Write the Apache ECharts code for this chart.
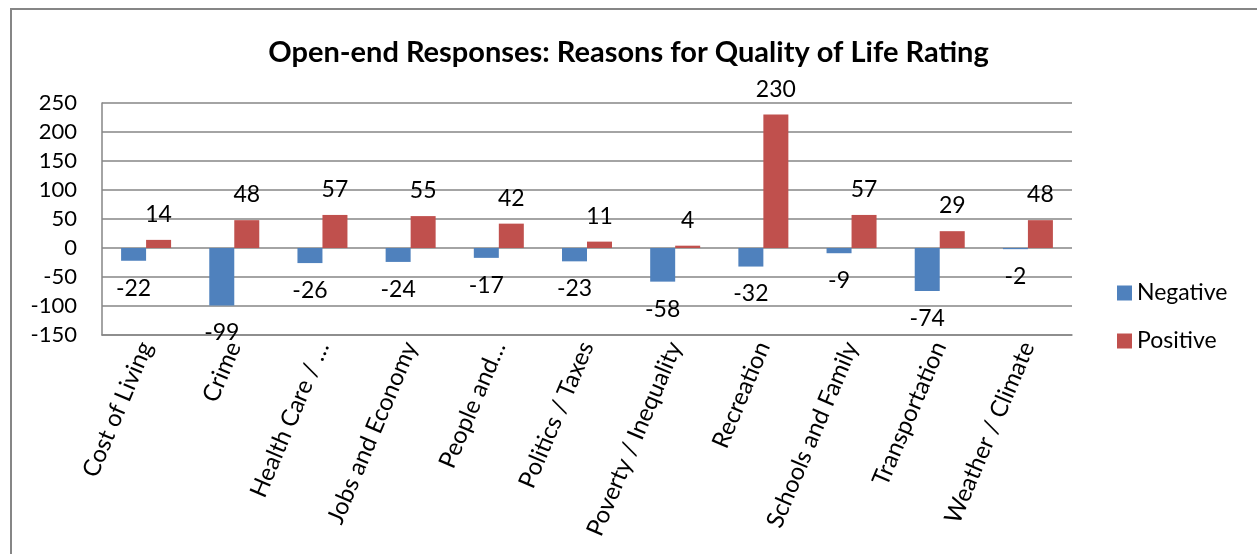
<!doctype html>
<html lang="en">
<head>
    <meta charset="UTF-8">
    <script type="text/javascript" src="https://cdn.jsdelivr.net/npm/echarts@6/dist/echarts.min.js"></script>
    <title>Quality of Life Rating</title>
    <style>
        html, body { margin: 0; padding: 0; background: #fff; }
        #main { width: 1257px; height: 554px; }
    </style>
</head>
<body>
    <div id="main"></div>
</body>
<script type="text/javascript">
    // data
    var categories = ['Cost of Living', 'Crime', 'Health Care / \u2026', 'Jobs and Economy', 'People and\u2026',
        'Politics / Taxes', 'Poverty / Inequality', 'Recreation', 'Schools and Family', 'Transportation', 'Weather / Climate'];
    var negative = [-22, -99, -26, -24, -17, -23, -58, -32, -9, -74, -2];
    var positive = [14, 48, 57, 55, 42, 11, 4, 230, 57, 29, 48];
    var yTicks = [-150, -100, -50, 0, 50, 100, 150, 200, 250];

    var FONT = 'Lato';
    var myChart = echarts.init(document.getElementById('main'));
    myChart.setOption({
        animation: false,
        backgroundColor: '#fff',
        textStyle: { fontFamily: FONT },
        title: {
            text: 'Open-end Responses: Reasons for Quality of Life Rating',
            left: 'center',
            top: 33,
            textStyle: { fontFamily: FONT, fontSize: 29, fontWeight: 'bold', color: '#000' }
        },
        graphic: [{
            type: 'rect',
            shape: { x: 11, y: 9, width: 1260, height: 560 },
            style: { fill: 'none', stroke: '#868686', lineWidth: 2 },
            silent: true
        }],
        legend: {
            orient: 'vertical',
            left: 1112,
            top: 275,
            itemWidth: 15,
            itemHeight: 15,
            itemGap: 22,
            icon: 'rect',
            data: ['Negative', 'Positive'],
            textStyle: { fontFamily: FONT, fontSize: 23, color: '#000', lineHeight: 26 }
        },
        grid: { left: 102, right: 185, top: 103, bottom: 219 },
        xAxis: {
            type: 'category',
            data: categories,
            axisLine: { onZero: false, lineStyle: { color: '#868686', width: 1.5 } },
            axisTick: { show: false },
            axisLabel: { interval: 0, rotate: 67, margin: 8, fontSize: 24, color: '#000', fontFamily: FONT }
        },
        yAxis: {
            type: 'value',
            min: yTicks[0],
            max: yTicks[yTicks.length - 1],
            interval: 50,
            axisLine: { show: true, lineStyle: { color: '#868686', width: 1.5 } },
            axisTick: { show: false },
            axisLabel: { fontSize: 22, color: '#000', margin: 25, fontFamily: FONT },
            splitLine: { lineStyle: { color: '#868686', width: 1.5 } }
        },
        series: [
            {
                name: 'Negative',
                type: 'bar',
                data: negative,
                barWidth: 25,
                barGap: '0%',
                itemStyle: { color: '#4F81BD' },
                label: { show: true, position: 'bottom', distance: 16, fontSize: 23, color: '#000', fontFamily: FONT }
            },
            {
                name: 'Positive',
                type: 'bar',
                data: positive,
                barWidth: 25,
                itemStyle: { color: '#C0504D' },
                label: { show: true, position: 'top', distance: 14, fontSize: 23, color: '#000', fontFamily: FONT }
            }
        ]
    });
</script>
</html>
